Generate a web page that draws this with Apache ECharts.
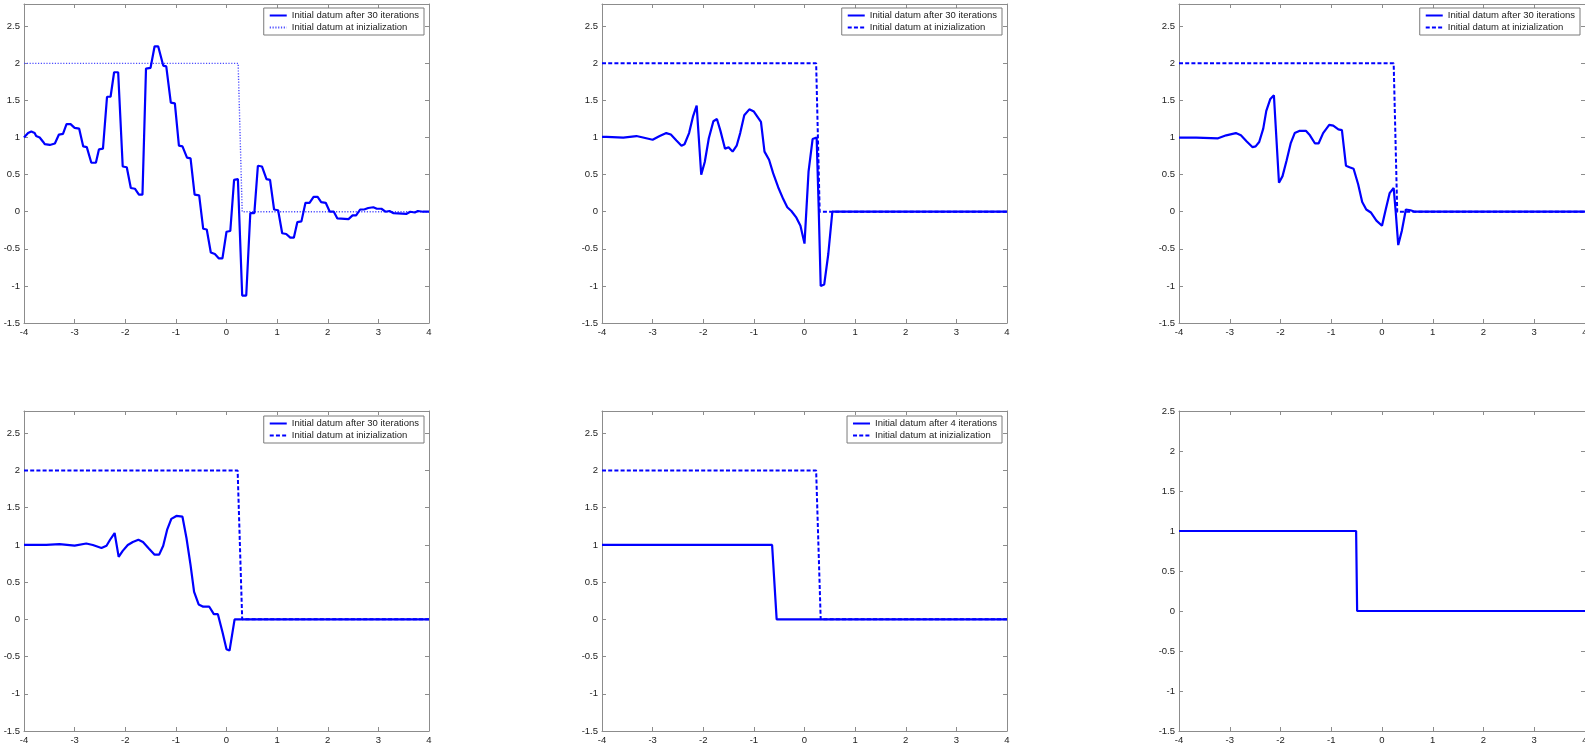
<!DOCTYPE html>
<html>
<head>
<meta charset="utf-8">
<script src="https://cdn.jsdelivr.net/npm/echarts@6/dist/echarts.min.js"></script>
<style>
html,body{margin:0;padding:0;background:#fff;}
#c{width:1585px;height:752px;}
</style>
</head>
<body>
<div id="c"></div>
<script>
// ---------- data ----------
var xTickMin = -4, xTickMax = 4, xTickStep = 1;
var yTickMin = -1.5, yTickStep = 0.5;
var yMaxLegendPanels = 2.8, yMaxLastPanel = 2.5;

var legendAfter30 = "Initial datum after 30 iterations";
var legendAfter4 = "Initial datum after 4 iterations";
var legendInit = "Initial datum at inizialization";

var p1After = [[-4,1.0],[-3.92,1.06],[-3.855,1.08],[-3.79,1.06],[-3.76,1.02],[-3.69,1.0],[-3.62,0.94],[-3.59,0.91],[-3.49,0.90],[-3.39,0.92],[-3.31,1.04],[-3.23,1.05],[-3.16,1.18],[-3.08,1.18],[-3.0,1.13],[-2.91,1.12],[-2.83,0.88],[-2.76,0.87],[-2.67,0.66],[-2.58,0.66],[-2.52,0.84],[-2.44,0.85],[-2.36,1.55],[-2.29,1.55],[-2.22,1.88],[-2.14,1.88],[-2.05,0.61],[-1.97,0.60],[-1.89,0.32],[-1.81,0.31],[-1.73,0.23],[-1.66,0.23],[-1.59,1.93],[-1.50,1.94],[-1.42,2.23],[-1.35,2.23],[-1.25,1.97],[-1.19,1.96],[-1.10,1.47],[-1.02,1.46],[-0.94,0.89],[-0.87,0.88],[-0.78,0.73],[-0.71,0.72],[-0.63,0.23],[-0.54,0.22],[-0.46,-0.23],[-0.39,-0.24],[-0.31,-0.55],[-0.23,-0.57],[-0.15,-0.63],[-0.08,-0.63],[0.0,-0.27],[0.075,-0.26],[0.15,0.43],[0.225,0.44],[0.31,-1.13],[0.39,-1.13],[0.47,-0.02],[0.55,-0.02],[0.62,0.62],[0.70,0.61],[0.79,0.44],[0.86,0.43],[0.94,0.03],[1.02,0.02],[1.10,-0.29],[1.18,-0.30],[1.26,-0.35],[1.33,-0.35],[1.40,-0.14],[1.48,-0.13],[1.56,0.12],[1.64,0.12],[1.72,0.20],[1.80,0.20],[1.87,0.13],[1.96,0.12],[2.04,0.0],[2.12,0.0],[2.19,-0.09],[2.41,-0.10],[2.49,-0.05],[2.56,-0.05],[2.64,0.03],[2.72,0.03],[2.80,0.05],[2.90,0.06],[2.97,0.04],[3.06,0.04],[3.14,0.0],[3.22,0.01],[3.30,-0.02],[3.55,-0.03],[3.63,0.0],[3.72,-0.01],[3.78,0.01],[3.88,0.0],[4.0,0.0]];
var p1Init = [[-4,2],[0.23,2],[0.31,0],[4,0]];

var p2After = [[-4,1.01],[-3.91,1.01],[-3.58,1.0],[-3.32,1.02],[-3.19,1.0],[-3.0,0.97],[-2.86,1.02],[-2.73,1.06],[-2.64,1.04],[-2.53,0.96],[-2.43,0.89],[-2.37,0.91],[-2.28,1.06],[-2.20,1.29],[-2.13,1.43],[-2.04,0.50],[-1.97,0.67],[-1.89,0.99],[-1.80,1.22],[-1.73,1.25],[-1.66,1.09],[-1.57,0.85],[-1.50,0.87],[-1.42,0.81],[-1.34,0.89],[-1.27,1.06],[-1.19,1.30],[-1.09,1.38],[-1.0,1.35],[-0.86,1.21],[-0.79,0.81],[-0.70,0.70],[-0.62,0.52],[-0.52,0.33],[-0.42,0.17],[-0.34,0.06],[-0.26,0.01],[-0.16,-0.08],[-0.08,-0.19],[0.0,-0.43],[0.08,0.54],[0.16,0.98],[0.24,1.0],[0.28,0.06],[0.32,-1.0],[0.39,-0.98],[0.47,-0.57],[0.55,0.0],[4,0]];
var p2Init = [[-4,2],[0.23,2],[0.30,0],[4,0]];

var p3After = [[-4,1.0],[-3.66,1.0],[-3.23,0.99],[-3.07,1.03],[-2.88,1.06],[-2.78,1.03],[-2.67,0.95],[-2.55,0.87],[-2.49,0.88],[-2.42,0.94],[-2.34,1.12],[-2.28,1.36],[-2.20,1.52],[-2.13,1.57],[-2.03,0.39],[-1.96,0.48],[-1.88,0.69],[-1.80,0.92],[-1.72,1.06],[-1.62,1.09],[-1.50,1.09],[-1.42,1.03],[-1.32,0.92],[-1.25,0.92],[-1.16,1.06],[-1.04,1.17],[-0.96,1.16],[-0.86,1.11],[-0.79,1.10],[-0.71,0.62],[-0.64,0.60],[-0.56,0.58],[-0.47,0.37],[-0.39,0.13],[-0.31,0.03],[-0.22,-0.01],[-0.11,-0.12],[0.0,-0.19],[0.07,0.02],[0.15,0.25],[0.23,0.32],[0.27,0.0],[0.32,-0.45],[0.39,-0.26],[0.47,0.03],[0.56,0.02],[0.65,0.0],[4,0]];
var p3Init = [[-4,2],[0.23,2],[0.30,0],[4,0]];

var p4After = [[-4,1.0],[-3.56,1.0],[-3.30,1.01],[-3.0,0.99],[-2.77,1.02],[-2.64,1.0],[-2.47,0.96],[-2.37,0.99],[-2.30,1.07],[-2.21,1.16],[-2.13,0.84],[-2.05,0.92],[-1.95,1.0],[-1.85,1.04],[-1.74,1.07],[-1.65,1.04],[-1.53,0.95],[-1.42,0.87],[-1.33,0.87],[-1.25,0.99],[-1.17,1.21],[-1.09,1.35],[-0.99,1.39],[-0.87,1.38],[-0.79,1.09],[-0.71,0.73],[-0.64,0.37],[-0.55,0.20],[-0.46,0.17],[-0.34,0.17],[-0.25,0.07],[-0.17,0.07],[-0.08,-0.17],[0.0,-0.40],[0.06,-0.42],[0.16,0.0],[4,0]];
var p4Init = [[-4,2],[0.22,2],[0.31,0],[4,0]];

var p5After = [[-4,1],[-0.64,1],[-0.55,0],[4,0]];
var p5Init = [[-4,2],[0.23,2],[0.32,0],[4,0]];

var p6Data = [[-4,1],[-0.51,1],[-0.49,0],[4,0]];

// ---------- layout ----------
var FONT = "'Liberation Sans', Arial, Helvetica, sans-serif";
var AXC = '#8c8c8c';
var BLUE = '#0000ff';
var cols = [{left:24,width:405},{left:602,width:405},{left:1179,width:406}];
var rows = [{top:4,height:319},{top:411,height:320}];

var panels = [
  {r:0,c:0,after:p1After,init:p1Init,afterName:legendAfter30,initType:'dotted',legendRight:1161,legendTop:8,ymax:yMaxLegendPanels},
  {r:0,c:1,after:p2After,init:p2Init,afterName:legendAfter30,initType:'dashed',legendRight:583,legendTop:8,ymax:yMaxLegendPanels},
  {r:0,c:2,after:p3After,init:p3Init,afterName:legendAfter30,initType:'dashed',legendRight:5,legendTop:8,ymax:yMaxLegendPanels},
  {r:1,c:0,after:p4After,init:p4Init,afterName:legendAfter30,initType:'dashed',legendRight:1161,legendTop:416,ymax:yMaxLegendPanels},
  {r:1,c:1,after:p5After,init:p5Init,afterName:legendAfter4,initType:'dashed',legendRight:583,legendTop:416,ymax:yMaxLegendPanels},
  {r:1,c:2,after:p6Data,init:null,afterName:null,ymax:yMaxLastPanel}
];

var grids=[],xAxes=[],yAxes=[],series=[],legends=[];
panels.forEach(function(p,i){
  grids.push({left:cols[p.c].left,width:cols[p.c].width,top:rows[p.r].top,height:rows[p.r].height,show:false,
    containLabel:false,outerBoundsMode:'none'});
  var tick = {show:true,inside:true,length:4,lineStyle:{color:AXC,width:1}};
  var line = {show:true,onZero:false,lineStyle:{color:AXC,width:1}};
  xAxes.push({gridIndex:i,type:'value',position:'bottom',min:xTickMin,max:xTickMax,interval:xTickStep,
    axisLine:line,axisTick:tick,splitLine:{show:false},
    axisLabel:{show:true,fontSize:9.5,fontFamily:FONT,color:'#222',margin:4}});
  xAxes.push({gridIndex:i,type:'value',position:'top',min:xTickMin,max:xTickMax,interval:xTickStep,
    axisLine:line,axisTick:tick,splitLine:{show:false},axisLabel:{show:false}});
  yAxes.push({gridIndex:i,type:'value',position:'left',min:yTickMin,max:p.ymax,interval:yTickStep,
    axisLine:line,axisTick:tick,splitLine:{show:false},
    axisLabel:{show:true,fontSize:9.5,fontFamily:FONT,color:'#222',margin:4,showMaxLabel:(p.ymax===yMaxLastPanel)}});
  yAxes.push({gridIndex:i,type:'value',position:'right',min:yTickMin,max:p.ymax,interval:yTickStep,
    axisLine:line,axisTick:tick,splitLine:{show:false},axisLabel:{show:false}});
  var nA = 'P'+(i+1)+'|'+(p.afterName||'data');
  series.push({name:nA,type:'line',xAxisIndex:2*i,yAxisIndex:2*i,data:p.after,showSymbol:false,symbol:'none',
    lineStyle:{color:BLUE,width:2.2,type:'solid'},itemStyle:{color:BLUE},z:3});
  if(p.init){
    var nI = 'P'+(i+1)+'|'+legendInit;
    var dotted = p.initType==='dotted';
    series.push({name:nI,type:'line',xAxisIndex:2*i,yAxisIndex:2*i,data:p.init,showSymbol:false,symbol:'none',
      lineStyle:{color:dotted?'#4d4dff':BLUE,width:dotted?1.4:2,type:dotted?[1.2,1.6]:[4,2.2]},
      itemStyle:{color:dotted?'#4d4dff':BLUE},z:2});
    legends.push({data:[nA,nI],orient:'vertical',right:p.legendRight,top:p.legendTop,
      padding:[2,5,2,5],itemGap:1,itemWidth:17,itemHeight:10,selectedMode:false,
      backgroundColor:'#fff',borderColor:'#7a7a7a',borderWidth:1,borderRadius:0,
      itemStyle:{opacity:0,color:'rgba(0,0,0,0)',borderWidth:0},
      formatter:function(n){return n.split('|')[1];},
      textStyle:{fontSize:9.5,fontFamily:FONT,color:'#222',lineHeight:11,padding:[0,0,0,0]}});
  }
});

var chart = echarts.init(document.getElementById('c'),null,{renderer:'canvas'});
chart.setOption({
  animation:false,
  backgroundColor:'#fff',
  grid:grids,xAxis:xAxes,yAxis:yAxes,series:series,legend:legends,
  tooltip:{show:false}
});
</script>
</body>
</html>
